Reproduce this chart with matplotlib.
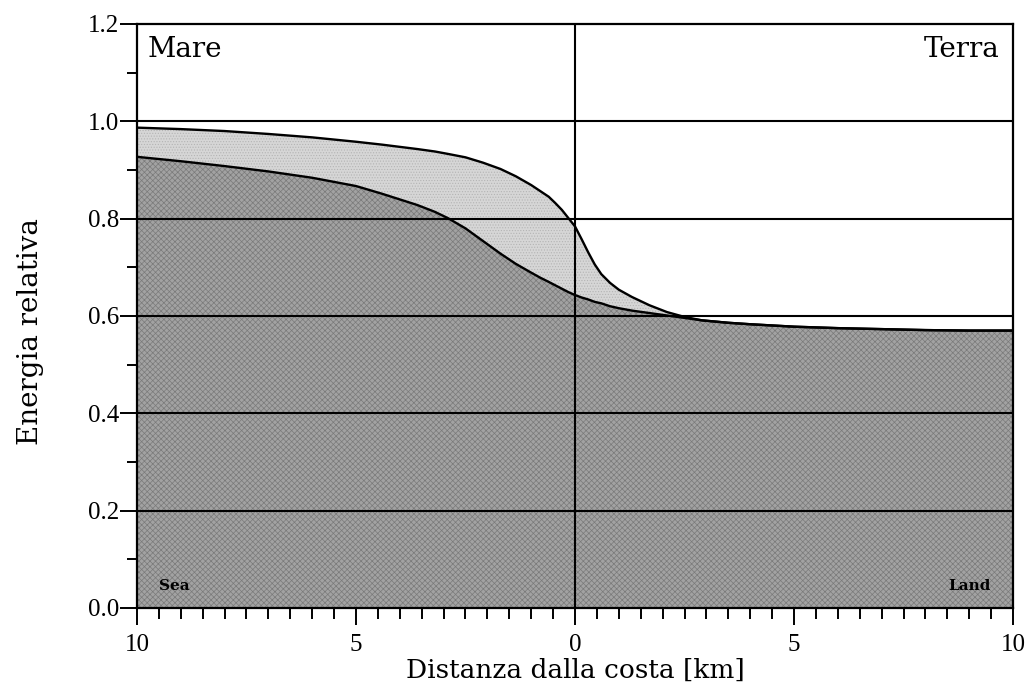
import numpy as np
import matplotlib
matplotlib.use("Agg")
import matplotlib.pyplot as plt
from matplotlib.ticker import MultipleLocator, FuncFormatter

plt.rcParams["font.family"] = ["Liberation Serif", "DejaVu Serif"]
plt.rcParams["hatch.linewidth"] = 0.5

# distance from the coast, km (negative = sea side)
dist = [-10, -9, -8, -7, -6, -5, -4.4, -3.6, -3.2, -2.9, -2.5, -2.1, -1.7, -1.35,
        -1, -0.8, -0.6, -0.45, -0.3, -0.15, 0, 0.15, 0.3, 0.45, 0.6, 0.8, 1.0,
        1.3, 1.7, 2.1, 2.5, 2.9, 3.5, 4, 5, 6, 7, 8, 9, 10]
upper = [0.987, 0.984, 0.980, 0.974, 0.967, 0.958, 0.952, 0.943, 0.938, 0.933,
         0.926, 0.915, 0.902, 0.887, 0.869, 0.857, 0.845, 0.832, 0.818, 0.801,
         0.784, 0.758, 0.731, 0.706, 0.686, 0.668, 0.654, 0.639, 0.622, 0.608,
         0.598, 0.591, 0.586, 0.583, 0.578, 0.575, 0.573, 0.571, 0.570, 0.570]
lower = [0.927, 0.918, 0.908, 0.897, 0.884, 0.867, 0.851, 0.828, 0.814, 0.801,
         0.780, 0.754, 0.728, 0.707, 0.689, 0.679, 0.670, 0.663, 0.656, 0.649,
         0.643, 0.638, 0.634, 0.629, 0.626, 0.620, 0.616, 0.611, 0.606, 0.601,
         0.596, 0.591, 0.586, 0.583, 0.578, 0.575, 0.573, 0.571, 0.570, 0.570]
grid_levels = [0.2, 0.4, 0.6, 0.8, 1.0]

SERIF_WIDE = ["DejaVu Serif"]

fig = plt.figure(figsize=(10.29, 6.93), dpi=100)
ax = fig.add_axes([0.1331, 0.1227, 0.8514, 0.8427])

ax.fill_between(dist, 0, upper, facecolor="#d6d6d6", edgecolor="#b4b4b4",
                hatch="......", lw=0, zorder=1)
ax.fill_between(dist, 0, lower, facecolor="#a2a2a2", edgecolor="#7a7a7a",
                hatch="xxxxxx", lw=0, zorder=2)
ax.plot(dist, upper, color="black", lw=1.7, zorder=3)
ax.plot(dist, lower, color="black", lw=1.7, zorder=3)

for g in grid_levels:
    ax.axhline(g, color="black", lw=1.5, zorder=4)
ax.axvline(0, color="black", lw=1.5, zorder=4)

ax.set_xlim(-10, 10)
ax.set_ylim(0, 1.2)
ax.xaxis.set_major_locator(MultipleLocator(5))
ax.xaxis.set_minor_locator(MultipleLocator(0.5))
ax.yaxis.set_major_locator(MultipleLocator(0.2))
ax.yaxis.set_minor_locator(MultipleLocator(0.1))
ax.xaxis.set_major_formatter(FuncFormatter(lambda v, p: f"{abs(v):.0f}"))
ax.yaxis.set_major_formatter(FuncFormatter(lambda v, p: f"{v:.1f}"))
ax.tick_params(which="both", direction="out", width=1.4, labelsize=18, colors="black")
ax.tick_params(axis="y", which="major", length=12, pad=1)
ax.tick_params(axis="y", which="minor", length=7)
ax.tick_params(axis="x", which="major", length=12, pad=7)
ax.tick_params(axis="x", which="minor", length=8)
for s in ax.spines.values():
    s.set_linewidth(1.6)

ax.set_xlabel("Distanza dalla costa [km]", fontsize=19, family=SERIF_WIDE, labelpad=1)
ax.set_ylabel("Energia relativa", fontsize=20, family=SERIF_WIDE)
ax.yaxis.set_label_coords(-0.106, 0.473)

ax.text(-9.75, 1.175, "Mare", fontsize=20, family=SERIF_WIDE, va="top", ha="left", zorder=5)
ax.text(9.7, 1.175, "Terra", fontsize=20, family=SERIF_WIDE, va="top", ha="right", zorder=5)
ax.text(-9.5, 0.03, "Sea", fontsize=11, fontweight="bold", family=SERIF_WIDE,
        va="bottom", ha="left", zorder=5)
ax.text(9.5, 0.03, "Land", fontsize=11, fontweight="bold", family=SERIF_WIDE,
        va="bottom", ha="right", zorder=5)

fig.savefig("out.png", dpi=100)
